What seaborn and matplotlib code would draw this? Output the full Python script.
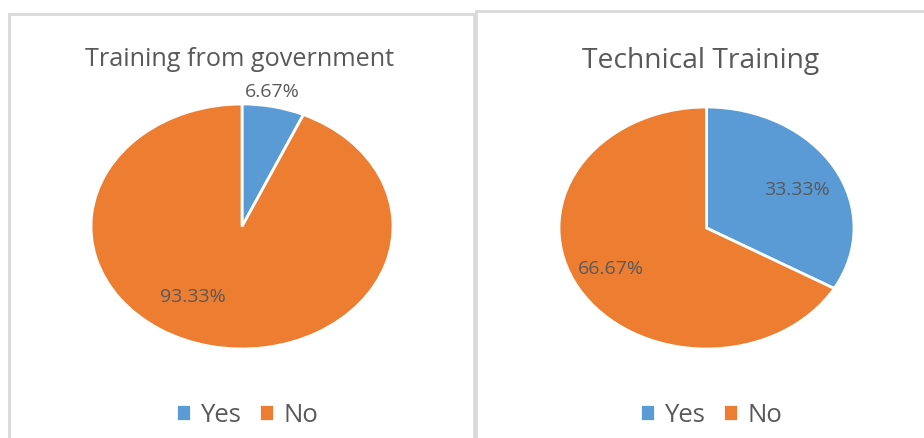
import matplotlib
matplotlib.use("Agg")
import matplotlib.pyplot as plt
from matplotlib.patches import Rectangle
import seaborn as sns

# Survey responses (share of respondents, %)
categories = ["Yes", "No"]
gov_training = [6.67, 93.33]
tech_training = [33.33, 66.67]
titles = ["Training from government", "Technical Training"]

sns.set_theme(style="white")
plt.rcParams["font.family"] = ["Open Sans", "DejaVu Sans"]

colors = ["#5B9BD5", "#ED7D31"]
text_color = "#595959"

W, H = 924, 439
fig = plt.figure(figsize=(W / 100, H / 100), dpi=100)
fig.patch.set_facecolor("white")


def fx(px):
    return px / W


def fy(py):
    return 1 - py / H


# Panel frames
frame_color = "#d9d9d9"
fig.add_artist(Rectangle((fx(8.5), fy(445)), fx(474.5 - 8.5), (445 - 14.5) / H,
                         transform=fig.transFigure, fill=False,
                         edgecolor=frame_color, linewidth=2))
fig.add_artist(Rectangle((fx(476.5), fy(445)), fx(940 - 476.5), (445 - 11.5) / H,
                         transform=fig.transFigure, fill=False,
                         edgecolor=frame_color, linewidth=2))

# Pie placement (pixel box for each ellipse) and label offsets in axes units
panels = [
    dict(values=gov_training, title=titles[0], box=(91, 105, 393, 350),
         title_xy=(240, 60), title_size=18.2, legend_x=247,
         label_pos=[(0.20, 1.11), (-0.325, -0.565)]),
    dict(values=tech_training, title=titles[1], box=(559, 108, 854, 350),
         title_xy=(701, 61), title_size=20.3, legend_x=711,
         label_pos=[(0.614, 0.32), (-0.647, -0.33)]),
]

for p in panels:
    x0, y0, x1, y1 = p["box"]
    ax = fig.add_axes([fx(x0), fy(y1), fx(x1 - x0), (y1 - y0) / H])
    wedges, _, autotexts = ax.pie(
        p["values"], colors=colors, startangle=90, counterclock=False,
        autopct="%.2f%%", radius=1.0,
        wedgeprops=dict(edgecolor="white", linewidth=2),
        textprops=dict(color=text_color, fontsize=14),
    )
    ax.set_aspect("auto")
    ax.set_xlim(-1.0, 1.0)
    ax.set_ylim(-1.0, 1.0)
    for t, pos in zip(autotexts, p["label_pos"]):
        t.set_position(pos)
        t.set_ha("center")
        t.set_va("center")
        t.set_clip_on(False)
    fig.text(fx(p["title_xy"][0]), fy(p["title_xy"][1]), p["title"],
             ha="center", va="center", fontsize=p["title_size"], color=text_color)
    fig.legend(wedges, categories, loc="center",
               bbox_to_anchor=(fx(p["legend_x"]), fy(416)), ncol=2,
               frameon=False, fontsize=18.5, labelcolor=text_color,
               handlelength=0.6, handleheight=0.6, handletextpad=0.35,
               columnspacing=0.7)

fig.savefig("out.png", dpi=100, facecolor="white")
